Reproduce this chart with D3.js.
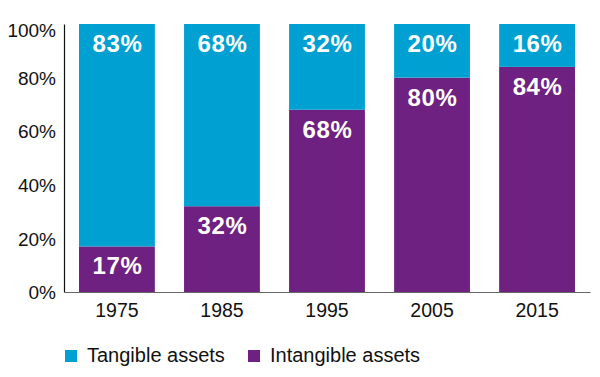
<!DOCTYPE html>
<html>
<head>
<meta charset="utf-8">
<script src="https://cdn.jsdelivr.net/npm/d3@7"></script>
<style>
  body { margin: 0; background: #fff; }
  svg { display: block; font-family: "Liberation Sans", Arial, sans-serif; }
</style>
</head>
<body>
<script>
// data
var years = ["1975", "1985", "1995", "2005", "2015"];
var intangible = [17, 32, 68, 80, 84];
var tangible = [83, 68, 32, 20, 16];
var yTicks = [0, 20, 40, 60, 80, 100];
var seriesNames = ["Tangible assets", "Intangible assets"];

var width = 600;
var height = 377;

var blue = "#00a1d2";
var purple = "#6e2181";

var svg = d3.select("body").append("svg")
    .attr("width", width)
    .attr("height", height);

// scales
var x = d3.scaleBand()
    .domain(years)
    .range([64, 590])
    .paddingInner(0.278)
    .paddingOuter(0.143);

var y = d3.scaleLinear()
    .domain([0, 100])
    .range([292, 24]);

// stacked rows
var rows = years.map((yr, i) => ({ year: yr, intangible: intangible[i], tangible: tangible[i] }));
var stack = d3.stack().keys(["intangible", "tangible"]);
var layers = stack(rows);
var colors = { intangible: purple, tangible: blue };

var layerG = svg.selectAll("g.layer")
    .data(layers)
    .enter().append("g")
    .attr("class", "layer")
    .attr("fill", d => colors[d.key]);

layerG.selectAll("rect")
    .data(d => d)
    .enter().append("rect")
    .attr("x", d => x(d.data.year))
    .attr("y", d => y(d[1]))
    .attr("width", x.bandwidth())
    .attr("height", d => y(d[0]) - y(d[1]));

// value labels
layers.forEach(layer => {
  svg.append("g").selectAll("text")
    .data(layer)
    .enter().append("text")
    .attr("x", d => x(d.data.year) + x.bandwidth() / 2 + 0.5)
    .attr("y", d => y(d[1]) + 28)
    .attr("text-anchor", "middle")
    .attr("fill", "#fff")
    .attr("font-weight", "bold")
    .attr("font-size", "24px")
    .attr("letter-spacing", "0.6px")
    .text(d => (d[1] - d[0]) + "%");
});

// y axis
var yAxis = d3.axisLeft(y)
    .tickValues(yTicks)
    .tickSize(0)
    .tickPadding(8)
    .tickFormat(d => d + "%");

var yG = svg.append("g")
    .attr("transform", "translate(64,0)")
    .call(yAxis);
yG.select(".domain").attr("stroke", "#111").attr("stroke-width", 1.2);
yG.selectAll("text")
    .attr("font-size", "19px")
    .attr("fill", "#111")
    .attr("font-family", "Liberation Sans, Arial, sans-serif")
    .attr("dy", d => d === 100 ? "0.66em" : "0.35em");

// x axis
var xAxis = d3.axisBottom(x)
    .tickSize(0)
    .tickPadding(11);

var xG = svg.append("g")
    .attr("transform", "translate(0,292)")
    .call(xAxis);
xG.select(".domain").attr("stroke", "#666").attr("stroke-width", 1.2);
xG.selectAll("text")
    .attr("font-size", "19.5px")
    .attr("fill", "#111")
    .attr("font-family", "Liberation Sans, Arial, sans-serif");

// legend
var legendX = [65, 248];
var legendColors = [blue, purple];
var legend = svg.append("g");
seriesNames.forEach((name, i) => {
  legend.append("rect")
    .attr("x", legendX[i])
    .attr("y", 350)
    .attr("width", 12)
    .attr("height", 12)
    .attr("fill", legendColors[i]);
  legend.append("text")
    .attr("x", legendX[i] + 22)
    .attr("y", 362)
    .attr("font-size", "20px")
    .attr("fill", "#111")
    .text(name);
});
</script>
</body>
</html>
